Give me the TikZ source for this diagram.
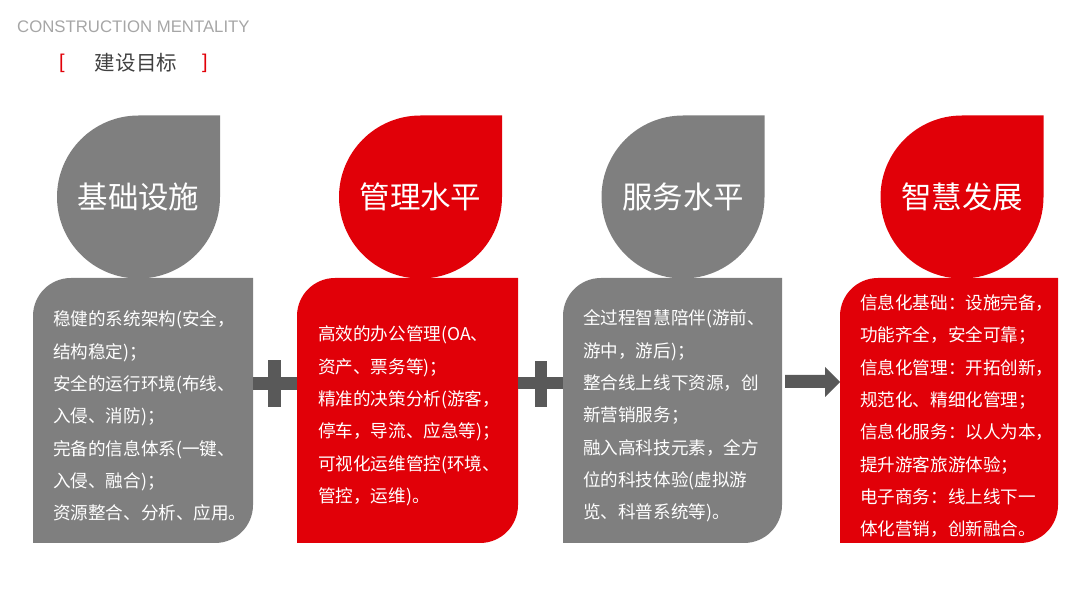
\documentclass[tikz,border=0pt]{standalone}
\usepackage{fontspec}
\setmainfont{Noto Sans CJK SC}
\newfontfamily\headfont{Liberation Sans}
\usepackage{xcolor}

\begin{document}
\begin{tikzpicture}[x=0.03cm, y=0.03cm]
        % Define some colors for convenience
        \definecolor{boxgray}{RGB}{127,127,127} % gray blocks
        \definecolor{boxred}{RGB}{225,0,8} % red blocks
        \definecolor{signgray}{RGB}{89,89,89} % plus signs and arrow
        \definecolor{headgray}{RGB}{166,166,166} % header text
        \definecolor{titlegray}{RGB}{64,64,64} % section title
        \tikzset{
          dropname/.style={text=white, inner sep=0pt, font=\fontsize{26}{30}\selectfont},
          itemtext/.style={text=white, anchor=west, align=left, inner sep=0pt, font=\fontsize{15}{27.6}\selectfont}
        }
        \useasboundingbox (0,0) rectangle (1080,608);

        % Header
        \node[anchor=west, inner sep=0pt, text=headgray, font=\headfont\fontsize{14.3}{16}\selectfont] (head) at (17,581) {CONSTRUCTION MENTALITY};
        \node[inner sep=0pt, text=boxred, font=\headfont\fontsize{17}{20}\selectfont] (lbrack) at (62,545) {[}; % left bracket
        \node[inner sep=0pt, text=boxred, font=\headfont\fontsize{17}{20}\selectfont] (rbrack) at (205,545) {]}; % right bracket
        \node[inner sep=0pt, text=titlegray, font=\fontsize{17.5}{20}\selectfont] (goal) at (136,545) {建设目标};

        % Drops (circle with square top right corner)
        \fill[boxgray] (220,411) -- (220,492.5) -- (138.5,492.5) arc[start angle=90, end angle=360, radius=81.5] -- cycle; % drop 1
        \fill[boxred] (502,411) -- (502,492.5) -- (420.5,492.5) arc[start angle=90, end angle=360, radius=81.5] -- cycle; % drop 2
        \fill[boxgray] (764.5,411) -- (764.5,492.5) -- (683,492.5) arc[start angle=90, end angle=360, radius=81.5] -- cycle; % drop 3
        \fill[boxred] (1043.5,411) -- (1043.5,492.5) -- (962,492.5) arc[start angle=90, end angle=360, radius=81.5] -- cycle; % drop 4

        % Text blocks (top left and bottom right rounded)
        \fill[boxgray] (33,65) -- (33,292) arc[start angle=180, end angle=90, radius=38] -- (253,330) -- (253,103) arc[start angle=0, end angle=-90, radius=38] -- cycle; % block 1
        \fill[boxred] (297,65) -- (297,292) arc[start angle=180, end angle=90, radius=38] -- (518,330) -- (518,103) arc[start angle=0, end angle=-90, radius=38] -- cycle; % block 2
        \fill[boxgray] (563,65) -- (563,292) arc[start angle=180, end angle=90, radius=38] -- (782,330) -- (782,103) arc[start angle=0, end angle=-90, radius=38] -- cycle; % block 3
        \fill[boxred] (840,65) -- (840,292) arc[start angle=180, end angle=90, radius=38] -- (1058,330) -- (1058,103) arc[start angle=0, end angle=-90, radius=38] -- cycle; % block 4

        % Plus signs and arrow
        \fill[signgray] (253,218) rectangle (297,231); % plus 1 bar
        \fill[signgray] (268,201) rectangle (281,248); % plus 1 stem
        \fill[signgray] (518,218.5) rectangle (563,231); % plus 2 bar
        \fill[signgray] (534.5,201) rectangle (546.5,247); % plus 2 stem
        \fill[signgray] (785,220) -- (825,220) -- (825,211) -- (840,226) -- (825,241) -- (825,233) -- (785,233) -- cycle; % arrow

        % Drop labels
        \node[dropname] (dropA) at (138.5,411) {基础设施};
        \node[dropname] (dropB) at (420.5,411) {管理水平};
        \node[dropname] (dropC) at (683,411) {服务水平};
        \node[dropname] (dropD) at (962,411) {智慧发展};

        % Block texts
        \node[itemtext] (textA) at (53,192) {稳健的系统架构(安全，\\结构稳定)；\\安全的运行环境(布线、\\入侵、消防)；\\完备的信息体系(一键、\\入侵、融合)；\\资源整合、分析、应用。};
        \node[itemtext] (textB) at (318,192) {高效的办公管理(OA、\\资产、票务等)；\\精准的决策分析(游客，\\停车，导流、应急等)；\\可视化运维管控(环境、\\管控，运维)。};
        \node[itemtext] (textC) at (583,192) {全过程智慧陪伴(游前、\\游中，游后)；\\整合线上线下资源，创\\新营销服务；\\融入高科技元素，全方\\位的科技体验(虚拟游\\览、科普系统等)。};
        \node[itemtext] (textD) at (860,192) {信息化基础：设施完备，\\功能齐全，安全可靠；\\信息化管理：开拓创新，\\规范化、精细化管理；\\信息化服务：以人为本，\\提升游客旅游体验；\\电子商务：线上线下一\\体化营销，创新融合。};
\end{tikzpicture}
\end{document}
